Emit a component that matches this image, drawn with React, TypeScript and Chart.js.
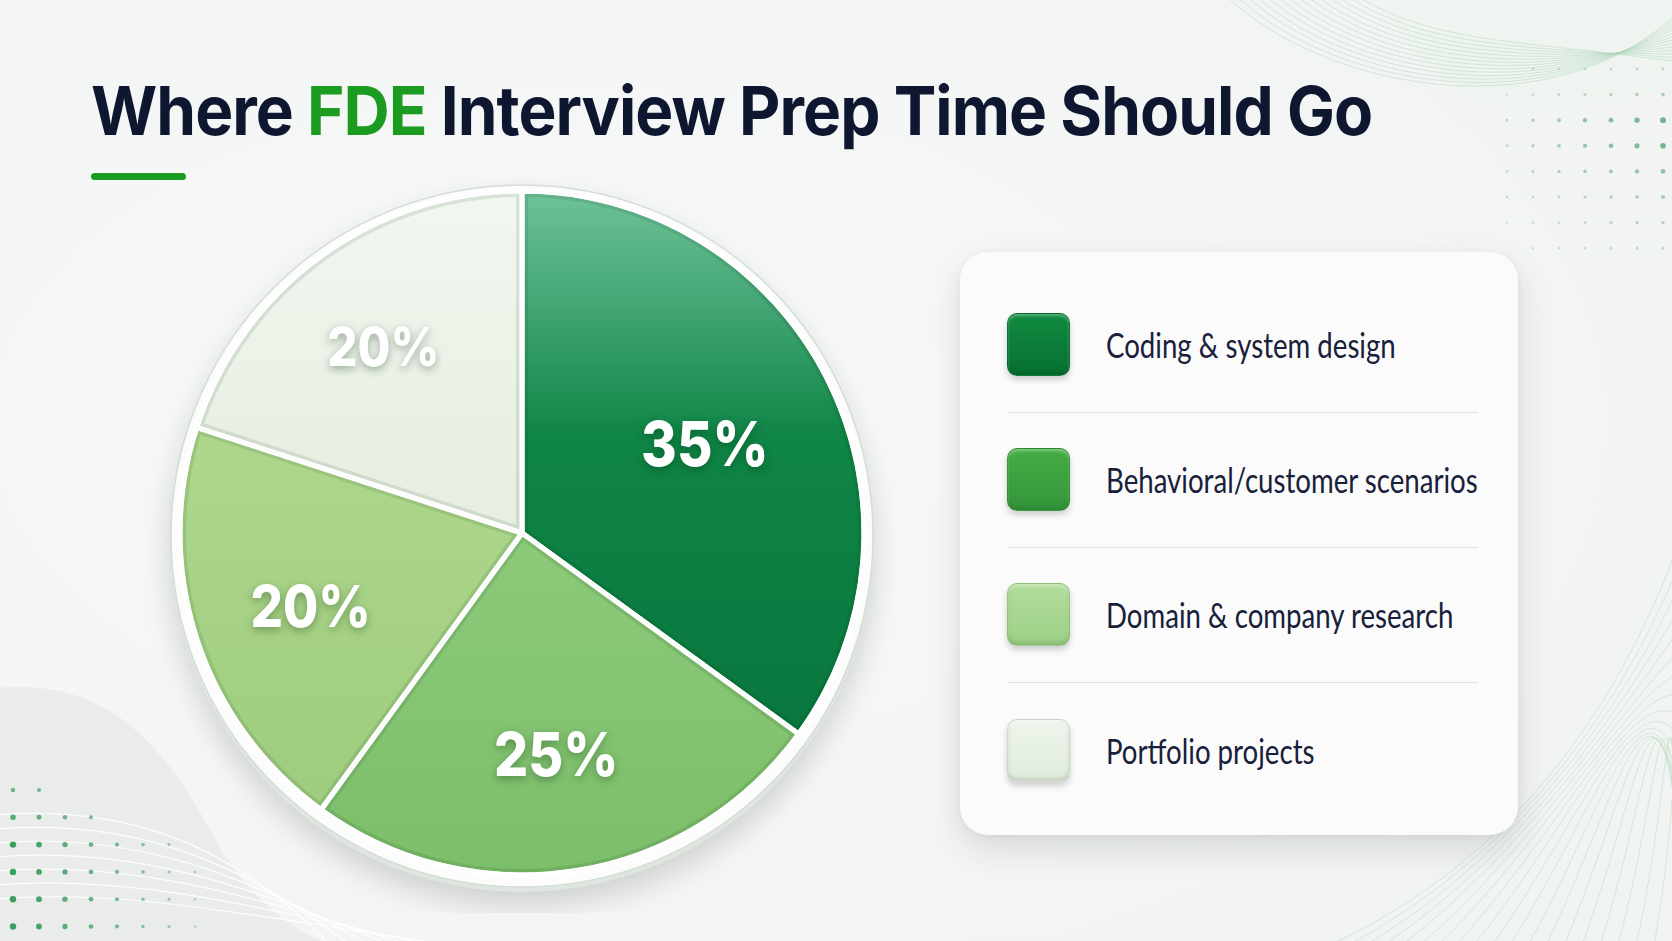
import React, { useEffect, useLayoutEffect, useRef, useState } from "react";
import { Chart, registerables } from "chart.js";

Chart.register(...registerables);

// ---------- data ----------
const categories = [
  "Coding & system design",
  "Behavioral/customer scenarios",
  "Domain & company research",
  "Portfolio projects",
];
const shares = [35, 25, 20, 20];
const titleBefore = "Where ";
const titleAccent = "FDE";
const titleAfter = " Interview Prep Time Should Go";

// ---------- style ----------
const sliceStops = [
  ["#70c39b", "#0f8546", "#06703a"],
  ["#b9e4a9", "#91cd7e", "#7cbe6a"],
  ["#cbe7ab", "#aed78c", "#9cca7b"],
  ["#f2f7f0", "#e8f0e4", "#dfeadb"],
];
const legendSwatches = [
  ["#10893f", "#077132"],
  ["#45ad45", "#33963a"],
  ["#b2dd9b", "#9dd086"],
  ["#eef5ec", "#e0ecdc"],
];
const labelSizes = [62, 61, 58, 54];
const labelRadius = [0.6, 0.64, 0.65, 0.69];

const rimPlugin = {
  id: "rim",
  beforeDatasetsDraw(chart: any) {
    const meta = chart.getDatasetMeta(0);
    if (!meta.data.length) return;
    const p = meta.data[0].getProps(["x", "y", "outerRadius"], true);
    const ctx = chart.ctx;
    ctx.save();
    ctx.beginPath();
    ctx.arc(p.x, p.y + 7, p.outerRadius + 10, 0, Math.PI * 2);
    ctx.fillStyle = "#dfe6df";
    ctx.shadowColor = "rgba(0,0,0,0.16)";
    ctx.shadowBlur = 30;
    ctx.shadowOffsetY = 12;
    ctx.fill();
    ctx.restore();
    ctx.save();
    ctx.beginPath();
    ctx.arc(p.x, p.y + 3, p.outerRadius + 9, 0, Math.PI * 2);
    ctx.fillStyle = "#fbfcfb";
    ctx.fill();
    ctx.lineWidth = 1.5;
    ctx.strokeStyle = "#d3ded3";
    ctx.stroke();
    ctx.restore();
  },
};

const bevelPlugin = {
  id: "bevel",
  afterDatasetsDraw(chart: any) {
    const meta = chart.getDatasetMeta(0);
    const ctx = chart.ctx;
    meta.data.forEach((arc: any) => {
      const p = arc.getProps(["x", "y", "startAngle", "endAngle", "outerRadius"], true);
      const path = () => {
        ctx.beginPath();
        ctx.moveTo(p.x, p.y);
        ctx.arc(p.x, p.y, p.outerRadius, p.startAngle, p.endAngle);
        ctx.closePath();
      };
      ctx.save();
      path();
      ctx.clip();
      path();
      ctx.lineJoin = "round";
      ctx.lineWidth = 12;
      ctx.strokeStyle = "rgba(0,50,10,0.10)";
      ctx.stroke();
      ctx.lineWidth = 5;
      ctx.strokeStyle = "#ffffff";
      ctx.stroke();
      ctx.restore();
    });
  },
};

const labelPlugin = {
  id: "sliceLabels",
  afterDatasetsDraw(chart: any) {
    const meta = chart.getDatasetMeta(0);
    const ctx = chart.ctx;
    meta.data.forEach((arc: any, i: number) => {
      const p = arc.getProps(["x", "y", "startAngle", "endAngle", "outerRadius"], true);
      const mid = (p.startAngle + p.endAngle) / 2;
      const r = p.outerRadius * labelRadius[i];
      const lx = p.x + Math.cos(mid) * r;
      const ly = p.y + Math.sin(mid) * r + 8;
      ctx.save();
      ctx.translate(lx, ly);
      ctx.scale(0.88, 1);
      ctx.font = `800 ${labelSizes[i]}px Inter, "Noto Sans", sans-serif`;
      ctx.textAlign = "center";
      ctx.textBaseline = "middle";
      ctx.fillStyle = "#ffffff";
      ctx.shadowColor = "rgba(0,40,10,0.35)";
      ctx.shadowBlur = 8;
      ctx.shadowOffsetY = 3;
      ctx.fillText(`${shares[i]}%`, 0, 0);
      ctx.restore();
    });
  },
};

function PieChart() {
  const ref = useRef<HTMLCanvasElement | null>(null);
  useEffect(() => {
    if (!ref.current) return;
    const chart = new Chart(ref.current, {
      type: "pie",
      data: {
        labels: categories,
        datasets: [
          {
            data: shares,
            backgroundColor: (c: any) => {
              const ch = c.chart;
              const area = ch.chartArea;
              const stops = sliceStops[c.dataIndex] || sliceStops[0];
              if (!area) return stops[1];
              const g = ch.ctx.createLinearGradient(0, area.top, 0, area.bottom);
              g.addColorStop(0, stops[0]);
              g.addColorStop(0.36, stops[1]);
              g.addColorStop(1, stops[2]);
              return g;
            },
            borderColor: "#ffffff",
            borderWidth: 5,
            hoverOffset: 0,
          },
        ],
      },
      options: {
        responsive: false,
        animation: false,
        layout: { padding: 35.5 },
        plugins: { legend: { display: false }, tooltip: { enabled: false } },
        events: [],
      },
      plugins: [rimPlugin, bevelPlugin, labelPlugin],
    } as any);
    return () => chart.destroy();
  }, []);
  return (
    <canvas
      ref={ref}
      width={760}
      height={760}
      style={{ position: "absolute", left: 142, top: 153, width: 760, height: 760 }}
    />
  );
}

function Decorations() {
  const topArcs = [];
  for (let k = 0; k < 14; k++) {
    topArcs.push(
      <path
        key={"t" + k}
        d={`M ${1225 + k * 10} -5 C ${1330 + k * 8} ${95 - k * 4}, ${1560 - k * 4} ${130 - k * 7}, ${1680} ${10 + k * 4}`}
        fill="none"
        stroke="#a9d3b4"
        strokeOpacity={0.45}
        strokeWidth={1}
      />
    );
  }
  const brLines = [];
  for (let k = 0; k < 22; k++) {
    brLines.push(
      <path
        key={"b" + k}
        d={`M ${1330 + k * 18} 945 C ${1470 + k * 12} ${880 - k * 6}, ${1600 + k * 4} ${760 - k * 10}, 1680 ${540 + k * 22}`}
        fill="none"
        stroke="#b8dcc0"
        strokeOpacity={0.55}
        strokeWidth={1}
      />
    );
  }
  const blLines = [];
  for (let k = 0; k < 7; k++) {
    blLines.push(
      <path
        key={"l" + k}
        d={`M -5 ${815 + k * 14} C 120 ${805 + k * 14}, 230 ${840 + k * 12}, ${330 + k * 20} 945`}
        fill="none"
        stroke="#ffffff"
        strokeOpacity={0.9}
        strokeWidth={1.2}
      />
    );
  }
  const dotsTR = [];
  for (let r = 0; r < 8; r++) {
    for (let c = 0; c < 7; c++) {
      const rowW = [0.25, 0.45, 1, 0.95, 0.7, 0.5, 0.35, 0.25][r];
      const colW = 0.25 + 0.75 * (c / 6);
      const w = rowW * colW;
      if (w < 0.08) continue;
      dotsTR.push(
        <circle
          key={`tr${r}-${c}`}
          cx={1507 + c * 26}
          cy={69 + r * 25.6}
          r={1 + 1.9 * w}
          fill="#4fa36d"
          fillOpacity={0.2 + 0.6 * w}
        />
      );
    }
  }
  const dotsBL = [];
  for (let r = 0; r < 6; r++) {
    for (let c = 0; c < 8; c++) {
      const maxC = [1, 3, 6, 7, 7, 7][r];
      if (c > maxC) continue;
      const w = (1 - c / 8.5) * (r === 0 ? 0.6 : r === 1 ? 0.8 : 1);
      dotsBL.push(
        <circle
          key={`bl${r}-${c}`}
          cx={13 + c * 26}
          cy={790 + r * 27.3}
          r={0.8 + 2.4 * w}
          fill="#2f9a57"
          fillOpacity={0.25 + 0.7 * w}
        />
      );
    }
  }
  return (
    <svg width={1672} height={941} style={{ position: "absolute", left: 0, top: 0 }}>
      <defs>
        <radialGradient id="bgGlow" cx="0.35" cy="0.45" r="0.8">
          <stop offset="0" stopColor="#f8f9f9" />
          <stop offset="1" stopColor="#f1f3f2" />
        </radialGradient>
      </defs>
      <rect width={1672} height={941} fill="url(#bgGlow)" />
      <path
        d="M 1380 -5 C 1420 90, 1480 110, 1560 108 C 1620 106, 1660 90, 1680 80 L 1680 -5 Z"
        fill="#eef3ef"
        opacity={0.7}
      />
      {topArcs}
      <path d="M -5 688 C 90 680, 150 720, 210 830 C 240 890, 290 930, 330 945 L -5 945 Z" fill="#e9ecea" />
      {blLines}
      {brLines}
      {dotsTR}
      {dotsBL}
    </svg>
  );
}

function useFitScale(target: number) {
  const ref = useRef<HTMLSpanElement | null>(null);
  const [scale, setScale] = useState(1);
  useLayoutEffect(() => {
    const measure = () => {
      if (!ref.current) return;
      const w = ref.current.scrollWidth;
      if (w > 0) setScale(target / w);
    };
    measure();
    if ((document as any).fonts?.ready) (document as any).fonts.ready.then(measure);
  }, [target]);
  return [ref, scale] as const;
}

function Legend() {
  const refs = useRef<(HTMLSpanElement | null)[]>([]);
  const [scale, setScale] = useState(1);
  useLayoutEffect(() => {
    const measure = () => {
      let max = 0;
      refs.current.forEach((el) => {
        if (el) max = Math.max(max, el.scrollWidth);
      });
      if (max > 0) setScale(372 / max);
    };
    measure();
    if ((document as any).fonts?.ready) (document as any).fonts.ready.then(measure);
  }, []);
  return (
    <div
      style={{
        position: "absolute",
        left: 960,
        top: 252,
        width: 558,
        height: 583,
        boxSizing: "border-box",
        borderRadius: 28,
        background: "#fbfbfb",
        boxShadow: "0 14px 34px rgba(30,40,50,0.13), 0 2px 6px rgba(30,40,50,0.06)",
        paddingTop: 25.5,
      }}
    >
      {categories.map((name, i) => (
        <div
          key={name}
          style={{
            height: 135,
            boxSizing: "border-box",
            display: "flex",
            alignItems: "center",
            marginLeft: 47,
            marginRight: 40,
            borderBottom: i < categories.length - 1 ? "1.5px solid #dfe2e7" : "none",
          }}
        >
          <div
            style={{
              width: 63,
              height: 63,
              borderRadius: 10,
              flex: "0 0 auto",
              background: `linear-gradient(180deg, ${legendSwatches[i][0]}, ${legendSwatches[i][1]})`,
              boxShadow:
                "0 4px 6px rgba(0,0,0,0.18), inset 0 -3px 4px rgba(0,0,0,0.12), inset 0 2px 3px rgba(255,255,255,0.35)",
              border: "1px solid rgba(0,60,20,0.12)",
              boxSizing: "border-box",
            }}
          />
          <span
            ref={(el) => {
              refs.current[i] = el;
            }}
            style={{
              marginLeft: 36,
              display: "inline-block",
              whiteSpace: "nowrap",
              fontFamily: "Lato, 'Noto Sans', sans-serif",
              fontSize: 34,
              color: "#18203a",
              transform: `scaleX(${scale})`,
              transformOrigin: "left center",
            }}
          >
            {name}
          </span>
        </div>
      ))}
    </div>
  );
}

export default function App() {
  const [titleRef, titleScale] = useFitScale(1281);
  useEffect(() => {
    document.body.style.margin = "0";
  }, []);
  return (
    <div
      style={{
        position: "absolute",
        left: 0,
        top: 0,
        width: 1672,
        height: 941,
        overflow: "hidden",
        background: "#f3f4f4",
      }}
    >
      <Decorations />
      <div style={{ position: "absolute", left: 91, top: 76, whiteSpace: "nowrap" }}>
        <span
          ref={titleRef}
          style={{
            display: "inline-block",
            fontFamily: "Inter, 'Noto Sans', sans-serif",
            fontWeight: 700,
            fontSize: 68,
            lineHeight: 1,
            color: "#0e1630",
            letterSpacing: -1,
            transform: `scaleX(${titleScale})`,
            transformOrigin: "left center",
          }}
        >
          {titleBefore}
          <span style={{ color: "#1c9b21" }}>{titleAccent}</span>
          {titleAfter}
        </span>
      </div>
      <div
        style={{
          position: "absolute",
          left: 91,
          top: 173,
          width: 95,
          height: 7,
          borderRadius: 4,
          background: "#1c9b21",
        }}
      />
      <PieChart />
      <Legend />
    </div>
  );
}
